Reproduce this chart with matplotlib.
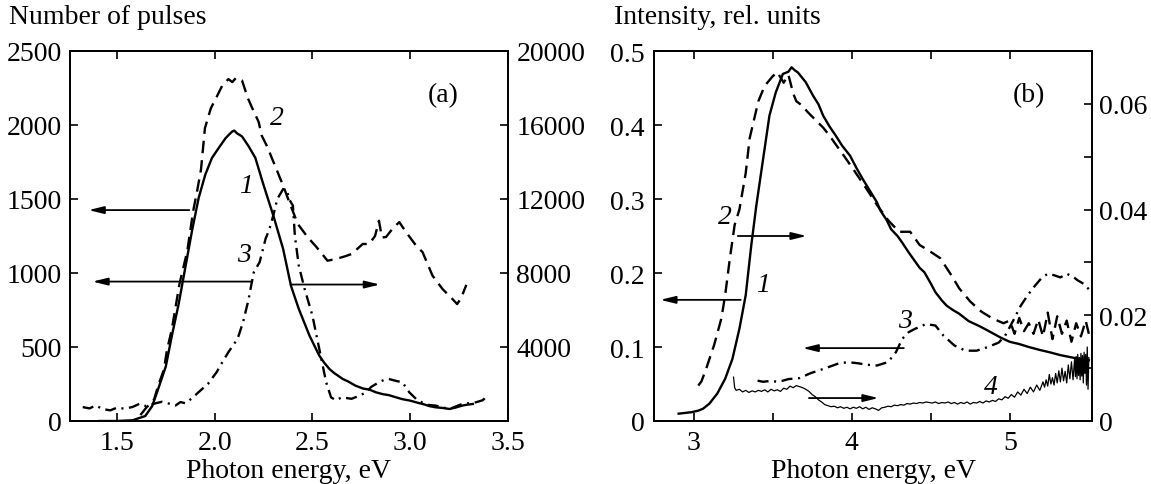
import matplotlib
matplotlib.use("Agg")
import matplotlib.pyplot as plt
from matplotlib.ticker import FixedLocator

plt.rcParams['font.family'] = ['Liberation Serif', 'DejaVu Serif']
plt.rcParams['lines.scale_dashes'] = False
FS = 20

# ---------------- Panel (a) data ----------------
# curve 1 (solid) - right axis, number of pulses
a1_x = [1.41, 1.50, 1.58, 1.645, 1.68, 1.71, 1.75, 1.78, 1.816, 1.85, 1.884, 1.918, 1.952, 1.986,
        2.02, 2.055, 2.075, 2.089, 2.10, 2.114, 2.14, 2.174, 2.208, 2.245, 2.276, 2.30, 2.35, 2.39,
        2.43, 2.485, 2.535, 2.56, 2.587, 2.61, 2.655, 2.68, 2.72, 2.76, 2.79, 2.825, 2.86, 2.89,
        2.927, 2.96, 3.0, 3.03, 3.07, 3.10, 3.13, 3.17, 3.2, 3.23, 3.265, 3.29, 3.32]
a1_y = [0, 0, 40, 270, 800, 1700, 2950, 4560, 6340, 8310, 10280, 12060, 13320, 14220,
        14750, 15280, 15500, 15640, 15700, 15550, 15380, 14840, 14220, 12920, 11890, 11100, 9300, 7310,
        6060, 4610, 3530, 3150, 2810, 2600, 2270, 2150, 1910, 1750, 1700, 1550, 1450, 1400,
        1280, 1180, 1100, 1010, 900, 800, 740, 700, 650, 720, 830, 880, 920]

# curve 2 (dashed) - left axis
a2_x = [1.62, 1.65, 1.69, 1.71, 1.74, 1.756, 1.78, 1.80, 1.82, 1.86, 1.875, 1.89, 1.91, 1.93,
        1.95, 1.98, 2.01, 2.04, 2.07, 2.09, 2.11, 2.14, 2.17, 2.19, 2.225, 2.24, 2.27, 2.29, 2.31,
        2.35, 2.39, 2.425, 2.475, 2.52, 2.577, 2.62, 2.66, 2.70, 2.757, 2.79, 2.82, 2.84, 2.855,
        2.876, 2.91, 2.944, 2.978, 3.03, 3.063, 3.114, 3.165, 3.216, 3.24, 3.26, 3.275, 3.287]
a2_y = [40, 90, 145, 235, 346, 480, 615, 770, 927, 1150, 1285, 1419, 1553, 1700,
        1978, 2112, 2190, 2270, 2310, 2290, 2320, 2300, 2180, 2120, 2020, 1930, 1850, 1784, 1720,
        1590, 1450, 1331, 1243, 1176, 1083, 1095, 1110, 1128, 1196, 1196, 1250, 1353, 1240,
        1243, 1300, 1344, 1277, 1185, 1141, 982, 892, 824, 790, 830, 880, 920]

# curve 3 (dash-dot) - left axis
a3_x = [1.325, 1.36, 1.39, 1.43, 1.466, 1.50, 1.54, 1.58, 1.617, 1.65, 1.69, 1.73, 1.768, 1.80,
        1.825, 1.85, 1.88, 1.928, 1.966, 2.01, 2.04, 2.07, 2.117, 2.145, 2.174, 2.18, 2.20, 2.23,
        2.26, 2.28, 2.30, 2.32, 2.35, 2.37, 2.38, 2.40, 2.41, 2.43, 2.46, 2.50, 2.535, 2.57, 2.595,
        2.62, 2.65, 2.70, 2.74, 2.775, 2.80, 2.84, 2.87, 2.89, 2.93, 2.96, 2.995, 3.03, 3.08, 3.13,
        3.2, 3.265, 3.30, 3.335, 3.37, 3.395]
a3_y = [94, 85, 105, 80, 72, 90, 83, 95, 117, 100, 117, 130, 117, 105,
        128, 120, 150, 207, 252, 330, 400, 465, 555, 668, 825, 871, 1005, 1074,
        1230, 1297, 1390, 1500, 1567, 1560, 1500, 1455, 1252, 1049, 892, 711, 486, 262, 160,
        140, 160, 150, 171, 194, 230, 262, 280, 284, 270, 262, 194, 149, 110, 104,
        81, 115, 120, 126, 140, 170]

a_xticks = [1.5, 2.0, 2.5, 3.0, 3.5]
a_xticklabels = ['1.5', '2.0', '2.5', '3.0', '3.5']
a_lyticks = [0, 500, 1000, 1500, 2000, 2500]
a_ryticks = [0, 4000, 8000, 12000, 16000, 20000]
a_ryticklabels = ['', '4000', '8000', '12000', '16000', '20000']

# ---------------- Panel (b) data ----------------
# curve 1 (solid) - left axis
b1_x = [2.906, 2.95, 2.99, 3.03, 3.06, 3.1, 3.15, 3.2, 3.246, 3.29, 3.33, 3.365, 3.397, 3.44,
        3.48, 3.52, 3.565, 3.60, 3.62, 3.64, 3.66, 3.71, 3.755, 3.79, 3.82, 3.86, 3.9, 3.94,
        3.99, 4.03, 4.07, 4.11, 4.16, 4.18, 4.22, 4.25, 4.29, 4.32, 4.36, 4.39, 4.43, 4.46,
        4.5, 4.53, 4.57, 4.6, 4.64, 4.68, 4.74, 4.81, 4.88, 4.94, 5.0, 5.06, 5.12, 5.19,
        5.25, 5.32, 5.39, 5.46, 5.5]
b1_y = [0.0099, 0.011, 0.012, 0.014, 0.0166, 0.0234, 0.037, 0.057, 0.084, 0.1245, 0.170, 0.237,
        0.291, 0.354, 0.4126, 0.444, 0.469, 0.472, 0.478, 0.474, 0.471, 0.4577, 0.44, 0.428,
        0.4126, 0.398, 0.3855, 0.372, 0.3585, 0.342, 0.327, 0.313, 0.2955, 0.285, 0.272, 0.259,
        0.250, 0.241, 0.228, 0.219, 0.207, 0.201, 0.186, 0.174, 0.163, 0.156, 0.150, 0.145,
        0.135, 0.128, 0.120, 0.113, 0.107, 0.104, 0.100, 0.096, 0.093, 0.089, 0.086, 0.083, 0.082]

# curve 2 (dashed) - right axis
b2_x = [3.03, 3.05, 3.08, 3.13, 3.176, 3.2, 3.23, 3.26, 3.29, 3.33, 3.355, 3.41, 3.45, 3.5,
        3.53, 3.57, 3.6, 3.63, 3.65, 3.69, 3.72, 3.77, 3.82, 3.86, 3.9, 3.96, 4.02, 4.09, 4.16,
        4.23, 4.3, 4.37, 4.43, 4.5, 4.56, 4.63, 4.68, 4.75, 4.82, 4.89, 4.96, 5.0, 5.03, 5.06,
        5.09, 5.12, 5.15, 5.18, 5.21, 5.24, 5.27, 5.3, 5.33, 5.36, 5.39, 5.42, 5.45, 5.48, 5.5]
b2_y = [0.0067, 0.0075, 0.0099, 0.01435, 0.0194, 0.0238, 0.0308, 0.0371, 0.0400, 0.0469, 0.0535,
        0.0605, 0.0634, 0.0652, 0.066, 0.064, 0.0655, 0.062, 0.0605, 0.0596, 0.0585, 0.057, 0.0555,
        0.054, 0.0523, 0.0498, 0.0472, 0.0441, 0.0409, 0.038, 0.0358, 0.0358, 0.0333, 0.032,
        0.0308, 0.0276, 0.0251, 0.0226, 0.0207, 0.0194, 0.0185, 0.019, 0.0165, 0.0195,
        0.017, 0.0185, 0.0165, 0.0192, 0.016, 0.0205, 0.0155, 0.0198, 0.0165, 0.019, 0.015,
        0.0185, 0.016, 0.019, 0.0165]

# curve 3 (dash-dot) - left axis
b3_x = [3.405, 3.44, 3.48, 3.54, 3.6, 3.67, 3.74, 3.83, 3.92, 3.98, 4.04, 4.1, 4.16, 4.23,
        4.28, 4.32, 4.36, 4.4, 4.47, 4.53, 4.58, 4.65, 4.72, 4.79, 4.86, 4.93, 4.97,
        5.02, 5.07, 5.12, 5.16, 5.2, 5.24, 5.28, 5.32, 5.36, 5.4, 5.43, 5.47, 5.5]
b3_y = [0.0545, 0.053, 0.054, 0.053, 0.0566, 0.058, 0.0646, 0.071, 0.078, 0.0795, 0.078, 0.076,
        0.075, 0.0796, 0.093, 0.111, 0.12, 0.1245, 0.131, 0.129, 0.1155,
        0.102, 0.095, 0.095, 0.0998, 0.106, 0.115, 0.135, 0.156, 0.172, 0.183, 0.193, 0.199,
        0.197, 0.194, 0.199, 0.195, 0.19, 0.185, 0.178]

# curve 4 (thin solid) - right axis
b4_x = [3.253, 3.26, 3.27, 3.29, 3.31, 3.33, 3.35, 3.37, 3.39, 3.41, 3.43, 3.45, 3.47, 3.49,
        3.51, 3.53, 3.55, 3.57, 3.59, 3.61, 3.63, 3.65, 3.67, 3.69, 3.71, 3.73, 3.75, 3.77, 3.79,
        3.81, 3.83, 3.85, 3.87, 3.89, 3.91, 3.93, 3.95, 3.97, 3.99, 4.01, 4.03, 4.05, 4.07, 4.09,
        4.11, 4.13, 4.15, 4.17, 4.19, 4.21, 4.23, 4.25, 4.27, 4.29, 4.31, 4.33, 4.35, 4.37, 4.39,
        4.41, 4.43, 4.45, 4.47, 4.49, 4.51, 4.53, 4.55, 4.57, 4.59, 4.61, 4.63, 4.65, 4.67, 4.69,
        4.71, 4.73, 4.75, 4.77, 4.79, 4.81, 4.83, 4.85, 4.87, 4.89, 4.91, 4.93, 4.95, 4.97, 4.99,
        5.01, 5.03, 5.05, 5.07, 5.09, 5.11, 5.13, 5.15, 5.17, 5.19, 5.21, 5.22, 5.23, 5.24, 5.25,
        5.26, 5.27, 5.28, 5.29, 5.30, 5.31, 5.32, 5.33, 5.34, 5.35, 5.36, 5.37, 5.38, 5.39, 5.40,
        5.41, 5.415, 5.42, 5.425, 5.43, 5.435, 5.44, 5.445, 5.45, 5.455, 5.46, 5.465, 5.47, 5.475,
        5.48, 5.485, 5.49, 5.495, 5.50]
b4_y = [0.0083, 0.0063, 0.0058, 0.006, 0.0055, 0.0058, 0.0054, 0.0057, 0.0055, 0.0058, 0.0056,
        0.0059, 0.0055, 0.0060, 0.0057, 0.0059, 0.0056, 0.0062, 0.0060, 0.0066, 0.0063, 0.0067,
        0.0065, 0.0063, 0.0060, 0.0056, 0.0050, 0.0046, 0.0040, 0.0036, 0.0031, 0.0029, 0.0027,
        0.0028, 0.0025, 0.0027, 0.0024, 0.0026, 0.0023, 0.0026, 0.0024, 0.0027, 0.0023, 0.0026,
        0.0022, 0.0025, 0.0023, 0.0020, 0.0025, 0.0026, 0.0028, 0.0027, 0.003, 0.0029, 0.0031,
        0.003, 0.0033, 0.0032, 0.0034, 0.0033, 0.0035, 0.0034, 0.0036, 0.0035, 0.0034, 0.0036,
        0.0033, 0.0035, 0.0034, 0.0036, 0.0033, 0.0035, 0.0032, 0.0035, 0.0033, 0.0036, 0.0032,
        0.0035, 0.0034, 0.0037, 0.0034, 0.0038, 0.0036, 0.0039, 0.0037, 0.0042, 0.0040, 0.0046,
        0.0043, 0.0050, 0.0045, 0.0055, 0.0049, 0.0060, 0.0052, 0.0064, 0.0055, 0.0068, 0.0058,
        0.0074, 0.0064, 0.0078, 0.0066, 0.0088, 0.0070, 0.0082, 0.0068, 0.0090, 0.0072, 0.0095,
        0.0074, 0.0100, 0.0076, 0.0094, 0.0072, 0.0106, 0.0080, 0.0112, 0.0078, 0.0118, 0.0084,
        0.0122, 0.0080, 0.0126, 0.0086, 0.0120, 0.0078, 0.0128, 0.0085, 0.0124, 0.0072, 0.0130,
        0.0090, 0.0126, 0.0068, 0.0140, 0.0060, 0.0120]

b_xmajor = [3, 4, 5]
b_xminor = [3.5, 4.5]
b_lyticks = [0, 0.1, 0.2, 0.3, 0.4, 0.5]
b_lyticklabels = ['0', '0.1', '0.2', '0.3', '0.4', '0.5']
b_ryticks = [0, 0.02, 0.04, 0.06]
b_ryminor = [0.01, 0.03, 0.05]
b_ryticklabels = ['0', '0.02', '0.04', '0.06']

# ---------------- figure ----------------
W, H = 1151, 485
fig = plt.figure(figsize=(W / 100, H / 100), dpi=100)

def px_axes(l, r, t, b):
    return [l / W, 1 - b / H, (r - l) / W, (b - t) / H]

axA = fig.add_axes(px_axes(70, 508, 52, 422))
axA2 = axA.twinx()
axB = fig.add_axes(px_axes(654, 1092, 52, 422))
axB2 = axB.twinx()

SOLID_LW = 1.7
DASH = (0, (9, 5))
DASHDOT = (0, (8, 4, 1.5, 4))

def style(ax):
    for s in ax.spines.values():
        s.set_linewidth(1.3)
    ax.tick_params(which='both', direction='in', length=6, width=1.2,
                   labelsize=FS, top=False)

def arrow(ax, start, end):
    ax.annotate('', xy=end, xytext=start,
                arrowprops=dict(arrowstyle='-|>,head_length=0.9,head_width=0.22',
                                lw=1.3, color='k', shrinkA=0, shrinkB=0))

# Panel (a)
axA.plot(a2_x, a2_y, color='k', lw=SOLID_LW, linestyle=DASH)
axA.plot(a3_x, a3_y, color='k', lw=SOLID_LW, linestyle=DASHDOT)
axA2.plot(a1_x, a1_y, color='k', lw=SOLID_LW)
axA.set_xlim(1.26, 3.5)
axA.set_ylim(0, 2500)
axA2.set_ylim(0, 20000)
axA.set_xticks(a_xticks)
axA.set_xticklabels(a_xticklabels)
axA.set_yticks(a_lyticks)
axA2.set_yticks(a_ryticks)
axA2.set_yticklabels(a_ryticklabels)
for ax in (axA, axA2):
    style(ax)
axA.tick_params(axis='x', which='both', top=True, pad=6.5)
axA.tick_params(axis='y', pad=6)
axA2.tick_params(axis='y', pad=6)

arrow(axA, (1.87, 1425), (1.355, 1425))
arrow(axA, (2.185, 942), (1.375, 942))
arrow(axA, (2.39, 922), (2.845, 922))
axA.text(3.17, 2207, '(a)', fontsize=FS, ha='center', va='center')
axA.text(2.32, 2050, '2', fontsize=FS, style='italic', ha='center', va='center')
axA.text(2.16, 1590, '1', fontsize=FS, style='italic', ha='center', va='center')
axA.text(2.15, 1128, '3', fontsize=FS, style='italic', ha='center', va='center')

# Panel (b)
axB.plot(b1_x, b1_y, color='k', lw=SOLID_LW)
axB.plot(b3_x, b3_y, color='k', lw=SOLID_LW, linestyle=DASHDOT)
axB2.plot(b2_x, b2_y, color='k', lw=SOLID_LW, linestyle=DASH)
axB2.plot(b4_x, b4_y, color='k', lw=0.9)
axB.set_xlim(2.75, 5.52)
axB.set_ylim(0, 0.5)
axB2.set_ylim(0, 0.07)
axB.xaxis.set_major_locator(FixedLocator(b_xmajor))
axB.xaxis.set_minor_locator(FixedLocator(b_xminor))
axB.set_xticklabels([str(v) for v in b_xmajor])
axB.set_yticks(b_lyticks)
axB.set_yticklabels(b_lyticklabels)
axB2.yaxis.set_major_locator(FixedLocator(b_ryticks))
axB2.yaxis.set_minor_locator(FixedLocator(b_ryminor))
axB2.set_yticklabels(b_ryticklabels)
for ax in (axB, axB2):
    style(ax)
axB.tick_params(axis='x', which='both', top=True, pad=6.5)
axB.tick_params(axis='y', pad=7)
axB2.tick_params(axis='y', which='both', pad=5)

arrow(axB, (3.298, 0.1637), (2.79, 0.1637))
arrow(axB, (3.28, 0.25), (3.715, 0.25))
arrow(axB, (4.33, 0.0985), (3.69, 0.0985))
arrow(axB, (3.73, 0.031), (4.17, 0.031))
axB.text(5.12, 0.4415, '(b)', fontsize=FS, ha='center', va='center')
axB.text(3.2, 0.277, '2', fontsize=FS, style='italic', ha='center', va='center')
axB.text(3.44, 0.185, '1', fontsize=FS, style='italic', ha='center', va='center')
axB.text(4.34, 0.136, '3', fontsize=FS, style='italic', ha='center', va='center')
axB.text(4.88, 0.046, '4', fontsize=FS, style='italic', ha='center', va='center')

# Axis titles
fig.text(9 / W, 1 - 18 / H, 'Number of pulses', fontsize=FS, ha='left', va='center')
fig.text(614 / W, 1 - 18 / H, 'Intensity, rel. units', fontsize=FS, ha='left', va='center')
fig.text(289 / W, 1 - 471.5 / H, 'Photon energy, eV', fontsize=FS, ha='center', va='center')
fig.text(873 / W, 1 - 471.5 / H, 'Photon energy, eV', fontsize=FS, ha='center', va='center')

fig.savefig('out.png', dpi=100)
